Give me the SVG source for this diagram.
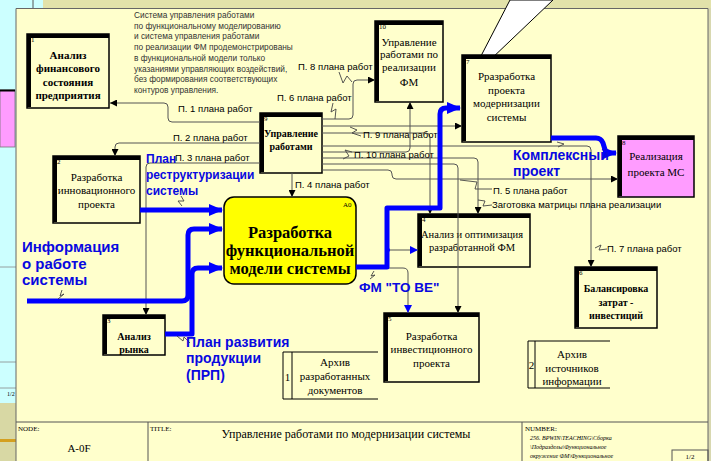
<svg xmlns="http://www.w3.org/2000/svg" width="711" height="461" viewBox="0 0 711 461">
<defs>
<style>
.bx{fill:#FFFFCC;stroke:#000;stroke-width:1.5}
.thk{fill:none;stroke:#000;stroke-width:4}
.nt{font-family:"Liberation Serif","Times New Roman",serif;font-size:11px;fill:#000;text-anchor:middle}
.nb{font-weight:bold}
.sm{font-size:10px}
.big{font-size:16.5px}
.num{font-family:"Liberation Serif","Times New Roman",serif;font-size:7px;fill:#000}
.lb{font-family:"Liberation Sans",Arial,sans-serif;font-size:9.5px;fill:#000}
.bl{font-family:"Liberation Sans",Arial,sans-serif;font-weight:bold;fill:#0808E0}
.note{font-family:"Liberation Sans",Arial,sans-serif;font-size:8.3px;fill:#333}
.ln{fill:none;stroke:#555;stroke-width:1}
.zz{fill:none;stroke:#444;stroke-width:0.9}
.bt{fill:none;stroke:#0000FF;stroke-width:5;stroke-linejoin:round}
.ft{font-family:"Liberation Serif","Times New Roman",serif;fill:#000}
</style>
<marker id="ah" viewBox="0 0 8 8" refX="8" refY="4" markerWidth="7" markerHeight="7" orient="auto" markerUnits="userSpaceOnUse"><path d="M0,0 L8,4 L0,8 z" fill="#000"/></marker>
<marker id="ahb" viewBox="0 0 8 8" refX="8" refY="4" markerWidth="8" markerHeight="8" orient="auto" markerUnits="userSpaceOnUse"><path d="M0,0 L8,4 L0,8 z" fill="#0000FF"/></marker>
<marker id="big" viewBox="0 0 14 12" refX="13" refY="6" markerWidth="14" markerHeight="12" orient="auto" markerUnits="userSpaceOnUse"><path d="M0,0 L14,6 L0,12 z" fill="#0000FF"/></marker>
</defs>

<!-- background -->
<rect x="0" y="0" width="711" height="461" fill="#FFFFCC"/>
<rect x="43" y="0" width="668" height="8" fill="#E2E2AA"/>
<rect x="0" y="0" width="43" height="8" fill="#CCFFFF"/>
<line x1="33" y1="0" x2="33" y2="8" stroke="#555" stroke-width="1"/>
<rect x="0" y="0" width="16" height="403" fill="#CCFFFF"/>
<rect x="0" y="90" width="15" height="57" fill="#FF9CFF" stroke="#777" stroke-width="0.8"/>
<line x1="0" y1="90.5" x2="15" y2="90.5" stroke="#000" stroke-width="2"/>
<line x1="0" y1="267" x2="16" y2="267" stroke="#888" stroke-width="0.8"/>
<line x1="0" y1="362" x2="16" y2="362" stroke="#888" stroke-width="0.8"/>
<line x1="0" y1="388" x2="16" y2="388" stroke="#888" stroke-width="0.8"/>
<text x="7" y="396" class="ft" font-size="6px">1/2</text>
<rect x="0" y="403" width="16" height="58" fill="#D8D8A4"/>
<rect x="0" y="439" width="16" height="3" fill="#D4A020"/>
<rect x="708" y="8" width="3" height="453" fill="#D8D8B0"/>
<path d="M16,461 V8.5 H708 V461" fill="none" stroke="#666" stroke-width="1"/>

<!-- callout -->
<polygon points="510,0 553,0 468,81" fill="#FFFFFF" stroke="#000" stroke-width="1"/>

<!-- note -->
<g id="note">
<text class="note" x="134" y="18">Система управления работами</text>
<text class="note" x="134" y="28.7">по функциональному моделированию</text>
<text class="note" x="134" y="39.4">и система управления работами</text>
<text class="note" x="134" y="50.1">по реализации ФМ продемонстрированы</text>
<text class="note" x="134" y="60.8">в функциональной модели только</text>
<text class="note" x="134" y="71.5">указаниями управляющих воздействий,</text>
<text class="note" x="134" y="82.2">без формирования соответствующих</text>
<text class="note" x="134" y="92.9">контуров управления.</text>
</g>

<!-- nodes -->
<g id="node1">
<rect class="bx" x="27" y="34" width="82" height="74"/>
<path class="thk" d="M29,107 V36 H109"/>
<text class="num" x="31" y="42">1</text>
<text class="nt nb" x="68" y="59">Анализ</text>
<text class="nt nb" x="68" y="72">финансового</text>
<text class="nt nb" x="68" y="86">состояния</text>
<text class="nt nb" x="68" y="99">предприятия</text>
</g>
<g id="node9">
<rect class="bx" x="260" y="113" width="62" height="60"/>
<path class="thk" d="M262,172 V115 H322"/>
<text class="num" x="264" y="121">9</text>
<text class="nt nb sm" x="291" y="137">Управление</text>
<text class="nt nb sm" x="291" y="150">работами</text>
</g>
<g id="node10">
<rect class="bx" x="375" y="21" width="68" height="81"/>
<path class="thk" d="M377,101 V23 H443"/>
<text class="num" x="379" y="29">10</text>
<text class="nt" x="409" y="46">Управление</text>
<text class="nt" x="409" y="58">работами по</text>
<text class="nt" x="409" y="71">реализации</text>
<text class="nt" x="409" y="86">ФМ</text>
</g>
<g id="node7">
<rect class="bx" x="462" y="55" width="89" height="87"/>
<path class="thk" d="M464,141 V57 H551"/>
<text class="num" x="466" y="64">7</text>
<text class="nt" x="506.5" y="80">Рразработка</text>
<text class="nt" x="506.5" y="94">проекта</text>
<text class="nt" x="506.5" y="107">модернизации</text>
<text class="nt" x="506.5" y="121">системы</text>
</g>
<g id="node8">
<rect x="618" y="136" width="76" height="61" fill="#FF9CFF" stroke="#000" stroke-width="1.5"/>
<path class="thk" d="M620,196 V138 H694"/>
<text class="num" x="622" y="145">8</text>
<text class="nt" x="656" y="160">Реализация</text>
<text class="nt" x="656" y="176">проекта МС</text>
</g>
<g id="node2">
<rect class="bx" x="53" y="156" width="87" height="67"/>
<path class="thk" d="M55,222 V158 H140"/>
<text class="num" x="57" y="164">2</text>
<text class="nt" x="96.5" y="181">Разработка</text>
<text class="nt" x="96.5" y="194">инновационного</text>
<text class="nt" x="96.5" y="208">проекта</text>
</g>
<g id="nodeA0">
<rect x="224" y="197" width="132" height="87" rx="10" fill="#FFFF00" stroke="#000" stroke-width="1.5"/>
<text class="num" x="343" y="207">A0</text>
<text class="nt nb big" x="290" y="238">Разработка</text>
<text class="nt nb big" x="290" y="256">функциональной</text>
<text class="nt nb big" x="290" y="274">модели системы</text>
</g>
<g id="node4">
<rect class="bx" x="418" y="214" width="112" height="53"/>
<path class="thk" d="M420,266 V216 H530"/>
<text class="num" x="422" y="222">4</text>
<text class="nt" x="472" y="238" style="font-size:10.5px">Анализ и оптимизация</text>
<text class="nt" x="472" y="251" style="font-size:10.5px">разработанной ФМ</text>
</g>
<g id="node6">
<rect class="bx" x="575" y="267" width="82" height="61"/>
<path class="thk" d="M577,327 V269 H657"/>
<text class="num" x="579" y="275">6</text>
<text class="nt nb sm" x="616" y="292">Балансировка</text>
<text class="nt nb sm" x="616" y="306">затрат -</text>
<text class="nt nb sm" x="616" y="319">инвестиций</text>
</g>
<g id="node5">
<rect class="bx" x="384" y="313" width="95" height="69"/>
<path class="thk" d="M386,381 V315 H479"/>
<text class="num" x="388" y="321">5</text>
<text class="nt" x="431.5" y="340">Разработка</text>
<text class="nt" x="431.5" y="353">инвестиционного</text>
<text class="nt" x="431.5" y="367">проекта</text>
</g>
<g id="node3">
<rect class="bx" x="103" y="315" width="62" height="40"/>
<path class="thk" d="M105,354 V317 H165"/>
<text class="num" x="107" y="323">3</text>
<text class="nt nb sm" x="134" y="340">Анализ</text>
<text class="nt nb sm" x="134" y="353">рынка</text>
</g>
<g id="store1">
<path d="M378,352 H283 V399 H378 M292,352 V399" fill="none" stroke="#000" stroke-width="1"/>
<text class="nt" x="287.5" y="381">1</text>
<text class="nt" x="335" y="366">Архив</text>
<text class="nt" x="335" y="380">разработанных</text>
<text class="nt" x="335" y="394">документов</text>
</g>
<g id="store2">
<path d="M610,341 H528 V388 H610 M535,341 V388" fill="none" stroke="#000" stroke-width="1"/>
<text class="nt" x="531.5" y="369">2</text>
<text class="nt" x="572" y="358">Архив</text>
<text class="nt" x="572" y="372">источников</text>
<text class="nt" x="572" y="385">информации</text>
</g>

<!-- connectors -->
<g id="connectors">
<path class="ln" d="M260,122 H172 Q168,122 168,118 V107 Q168,103 164,103 H110" marker-end="url(#ah)"/>
<path class="ln" d="M260,143 H119 Q115,143 115,147 V156" marker-end="url(#ah)"/>
<path class="ln" d="M260,163 H150 Q146,163 146,167 V315" marker-end="url(#ah)"/>
<path class="ln" d="M292,173 V197" marker-end="url(#ah)"/>
<path class="ln" d="M322,119 H349 Q353,119 353,115 V84 Q353,80 357,80 H375" marker-end="url(#ah)"/>
<path class="ln" d="M322,126 H462" marker-end="url(#ah)"/>
<path class="ln" d="M322,133 H426 Q430,133 430,137 V214" marker-end="url(#ah)"/>
<path class="ln" d="M322,146 H587 Q591,146 591,150 V267" marker-end="url(#ah)"/>
<path class="ln" d="M322,152 H406 Q410,152 410,148 V102" marker-end="url(#ah)"/>
<path class="ln" d="M322,158 H474 Q478,158 478,162 V214" marker-end="url(#ah)"/>
<path class="ln" d="M322,164 H454 Q458,164 458,168 V313" marker-end="url(#ah)"/>
<path class="ln" d="M322,170 H388 Q392,170 392,174 V175 Q392,179 396,179 H618" marker-end="url(#ah)"/>
<path class="ln" d="M388,250 H418" marker-end="url(#ahb)"/>
<path class="ln" d="M388,268 H403 Q408,268 408,273 V313" marker-end="url(#ahb)"/>
<circle cx="388" cy="250" r="2" fill="#0000FF"/>
<path class="bt" d="M140,210 H222" marker-end="url(#big)"/>
<path class="bt" d="M27,301 H182 Q188,301 188,295 V235 Q188,229 194,229 H222" marker-end="url(#big)"/>
<path class="bt" d="M165,334 H192 V274 Q192,268 198,268 H222" marker-end="url(#big)"/>
<path class="bt" d="M356,267 H387 V208 H440 V114 Q440,108 446,108 H460" marker-end="url(#big)"/>
<path class="bt" d="M551,138 H596 Q601,138 603,143 L606,153 H616" marker-end="url(#big)"/>
<path class="zz" d="M333,103 L331,112 L336,109 L335,119"/>
<path class="zz" d="M339,72 L343,83 L347,76 L352,82"/>
<path class="zz" d="M361,136 L352,133 L357,130 L350,127"/>
<path class="zz" d="M352,152 L345,150 L349,156 L343,159"/>
<path class="zz" d="M460,180 L477,182 L475,189 L492,189"/>
<path class="zz" d="M478,200 L485,201 L483,206 L492,205"/>
<path class="zz" d="M595,248 L601,245 L599,250 L607,249"/>
<path class="zz" d="M181,196 L184,201 L178,201 L182,206"/>
<path class="zz" d="M62,290 L60,296 L64,294 L58,299"/>
<path class="zz" d="M374,271 L371,276 L375,275 L370,279"/>
<path class="zz" d="M177,336 L183,341 L184,337 L190,343"/>
<path class="zz" d="M557,142 L564,144 L558,147"/>
</g>

<!-- labels -->
<g id="labels">
<text class="lb" x="178" y="111.5">П. 1 плана работ</text>
<text class="lb" x="173" y="140.5">П. 2 плана работ</text>
<text class="lb" x="175" y="160.5">П. 3 плана работ</text>
<text class="lb" x="277" y="100.5">П. 6 плана работ</text>
<text class="lb" x="298" y="69.5">П. 8 плана работ</text>
<text class="lb" x="363" y="137.5">П. 9 плана работ</text>
<text class="lb" x="354" y="158">П. 10 плана работ</text>
<text class="lb" x="295" y="187.5">П. 4 плана работ</text>
<text class="lb" x="493" y="193.5">П. 5 плана работ</text>
<text class="lb" x="492" y="207.5">Заготовка матрицы плана реализации</text>
<text class="lb" x="607" y="251.5">П. 7 плана работ</text>
<text class="bl" x="146" y="163" font-size="12px">План</text>
<text class="bl" x="146" y="179" font-size="12px">реструктуризации</text>
<text class="bl" x="146" y="195" font-size="12px">системы</text>
<text class="bl" x="22" y="251.5" font-size="15px">Информация</text>
<text class="bl" x="22" y="268.5" font-size="15px">о работе</text>
<text class="bl" x="22" y="284.5" font-size="15px">системы</text>
<text class="bl" x="513" y="160" font-size="14px">Комплексный</text>
<text class="bl" x="513" y="176" font-size="14px">проект</text>
<text class="bl" x="359" y="292" font-size="13.5px">ФМ "TO BE"</text>
<text class="bl" x="186" y="347" font-size="14px">План развития</text>
<text class="bl" x="186" y="363" font-size="14px">продукции</text>
<text class="bl" x="186" y="380" font-size="14px">(ПРП)</text>
</g>

<!-- footer -->
<g id="footer">
<line x1="16" y1="422" x2="708" y2="422" stroke="#555" stroke-width="1"/>
<line x1="148" y1="422" x2="148" y2="461" stroke="#555" stroke-width="1"/>
<line x1="522" y1="422" x2="522" y2="461" stroke="#555" stroke-width="1"/>
<text class="ft" x="18" y="431" font-size="7px">NODE:</text>
<text class="ft" x="79" y="452" font-size="11px" text-anchor="middle">A-0F</text>
<text class="ft" x="150" y="431" font-size="7px">TITLE:</text>
<text class="ft" x="346" y="438" font-size="12px" text-anchor="middle">Управление работами по модернизации системы</text>
<text class="ft" x="525" y="431" font-size="7px">NUMBER:</text>
<text class="ft" x="530" y="440" font-size="6px" font-style="italic">256. BPWIN\TEACHING\Сборка</text>
<text class="ft" x="530" y="449" font-size="6px" font-style="italic">\Подразделы\Функциональное</text>
<text class="ft" x="530" y="458" font-size="6px" font-style="italic">окружение ФМ\Функциональное</text>
<rect x="672" y="450" width="36" height="12" fill="none" stroke="#555" stroke-width="1"/>
<text class="ft" x="690" y="459" font-size="7px" text-anchor="middle">1/2</text>
</g>
</svg>
